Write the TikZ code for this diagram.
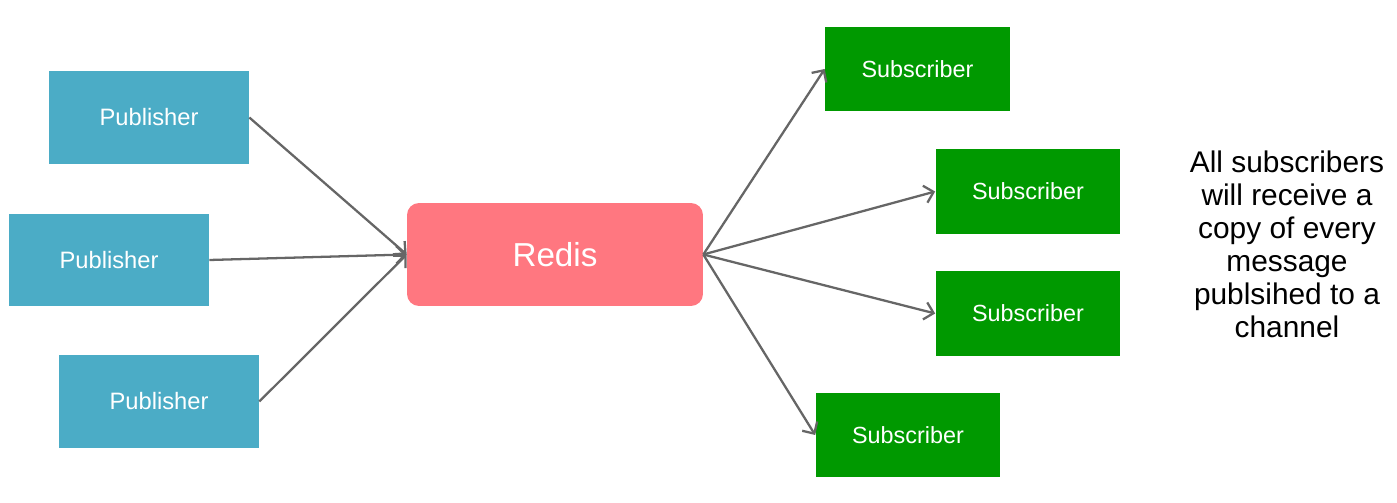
\documentclass[tikz,border=0pt]{standalone}
\usepackage{fontspec}
\setmainfont{Liberation Sans}
\usetikzlibrary{arrows.meta}
\usetikzlibrary{positioning}
\definecolor{pubblue}{HTML}{4BACC6}
\definecolor{subgreen}{HTML}{009900}
\definecolor{redispink}{HTML}{FF7780}
\definecolor{linegray}{HTML}{666666}

\begin{document}
\begin{tikzpicture}[x=0.02cm,y=-0.02cm,
pub_style/.style={fill=pubblue,text=white,minimum width=4cm,minimum height=1.86cm,inner sep=0pt,font=\fontsize{13.5}{16}\selectfont},
sub_style/.style={fill=subgreen,text=white,minimum width=3.7cm,minimum height=1.7cm,inner sep=0pt,font=\fontsize{13.3}{16}\selectfont},
edge_style/.style={draw=linegray,line width=1.3pt,-{Straight Barb[length=5pt,width=10pt]}}]
\useasboundingbox (0,0) rectangle (1397,503);

\node[fill=redispink,text=white,rounded corners=0.24cm,minimum width=5.92cm,minimum height=2.06cm,
 font=\fontsize{18.9}{22}\selectfont] (redis) at (555,254.5) {Redis};

\foreach \x/\y/\n in {149/117.5/1,109/260/2,159/401.5/3}{
 \node[pub_style] (p\n) at (\x,\y) {Publisher};
}
\foreach \x/\y/\n in {917.5/69/1,1028/191.5/2,1028/313.5/3,908/435/4}{
 \node[sub_style] (s\n) at (\x,\y) {Subscriber};
}

\node[align=center,font=\fontsize{17}{18.8}\selectfont] (note) at (1287,244)
 {All subscribers\\will receive a\\copy of every\\message\\publsihed to a\\channel};

\foreach \n in {1,2,3}{
 \draw[edge_style] (p\n.east) -- (redis.west);
}
\foreach \n in {1,2,3,4}{
 \draw[edge_style] (redis.east) -- (s\n.west);
}
\end{tikzpicture}
\end{document}
